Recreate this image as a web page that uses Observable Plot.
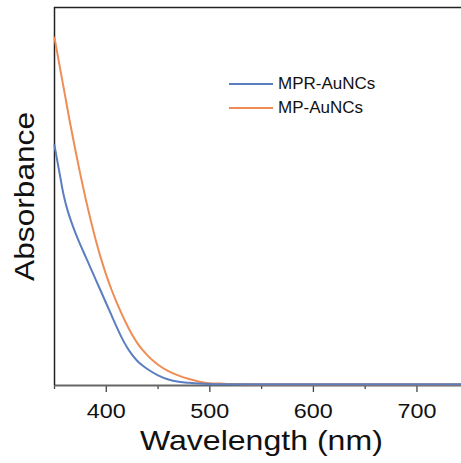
<!DOCTYPE html>
<html>
<head>
<meta charset="utf-8">
<script src="https://cdn.jsdelivr.net/npm/d3@7"></script>
<script src="https://cdn.jsdelivr.net/npm/@observablehq/plot@0.6"></script>
<style>
  html, body { margin: 0; padding: 0; background: #fff; }
  #wrap { position: relative; width: 461px; height: 463px; font-family: "Liberation Sans", Arial, sans-serif; }
  #legend { position: absolute; left: 229px; top: 72px; font-size: 17px; color: #111; line-height: 24px; }
  #legend div { display: flex; align-items: center; white-space: nowrap; }
  #legend svg { margin-right: 5px; }
</style>
</head>
<body>
<div id="wrap"></div>
<script>
// Wavelength (nm) and absorbance readings (arbitrary units, 0–1 of frame height)
const mprWavelength = [350, 352, 354, 356, 358, 360, 363, 366, 370, 375, 380, 385, 390, 395, 400, 405, 410, 415, 420, 425, 430, 435, 440, 450, 460, 470, 480, 490, 500, 520, 550, 600, 650, 700, 743];
const mprAbsorbance = [0.635, 0.605, 0.575, 0.545, 0.515, 0.49, 0.46, 0.435, 0.405, 0.372, 0.341, 0.31, 0.279, 0.248, 0.217, 0.186, 0.155, 0.126, 0.101, 0.081, 0.065, 0.053, 0.043, 0.027, 0.016, 0.010, 0.007, 0.005, 0.004, 0.003, 0.003, 0.003, 0.003, 0.003, 0.003];
const mpWavelength = [350, 355, 360, 365, 370, 375, 380, 385, 390, 395, 400, 405, 410, 415, 420, 425, 430, 435, 440, 445, 450, 460, 470, 480, 490, 500, 510, 520, 550, 600, 650, 700, 743];
const mpAbsorbance = [0.92, 0.845, 0.77, 0.695, 0.625, 0.558, 0.495, 0.437, 0.383, 0.335, 0.292, 0.254, 0.22, 0.189, 0.16, 0.134, 0.112, 0.094, 0.079, 0.066, 0.055, 0.038, 0.026, 0.017, 0.010, 0.006, 0.005, 0.004, 0.003, 0.003, 0.003, 0.003, 0.003];
const seriesNames = ["MPR-AuNCs", "MP-AuNCs"];
const seriesColors = ["#5a7ebf", "#ee8d55"];
const majorTicks = [400, 500, 600, 700];
const minorTicks = [350, 450, 550, 650];
const xLabel = "Wavelength (nm)";
const yLabel = "Absorbance";

const mpr = mprWavelength.map((w, i) => ({w, a: mprAbsorbance[i], s: seriesNames[0]}));
const mp = mpWavelength.map((w, i) => ({w, a: mpAbsorbance[i], s: seriesNames[1]}));

const chart = Plot.plot({
  width: 461,
  height: 463,
  marginLeft: 54,
  marginRight: 0,
  marginTop: 7,
  marginBottom: 78,
  style: {fontFamily: "'Liberation Sans', Arial, sans-serif", background: "#fff", overflow: "visible"},
  x: {domain: [350, 743]},
  y: {domain: [0, 1], axis: null},
  color: {domain: seriesNames, range: seriesColors},
  marks: [
    Plot.axisX({ticks: minorTicks, tickSize: 4, tickFormat: () => "", stroke: "#444", strokeWidth: 1.3, label: null}),
    Plot.axisX({ticks: majorTicks, tickSize: 7, tickPadding: 11, fontSize: 21, fill: "#111", stroke: "#444", strokeWidth: 1.3, label: null}),
    Plot.ruleY([0], {stroke: "#666", strokeWidth: 2}),
    Plot.ruleY([1], {stroke: "#222", strokeWidth: 1.5}),
    Plot.ruleX([350], {stroke: "#222", strokeWidth: 1.5}),
    Plot.line(mp, {x: "w", y: "a", stroke: "s", strokeWidth: 2, curve: "monotone-x"}),
    Plot.line(mpr, {x: "w", y: "a", stroke: "s", strokeWidth: 2, curve: "monotone-x"}),
    Plot.text([xLabel], {frameAnchor: "bottom", lineAnchor: "middle", textAnchor: "middle", dy: 56, dx: 4, fontSize: 28, fill: "#111"}),
    Plot.text([yLabel], {frameAnchor: "left", rotate: -90, textAnchor: "middle", lineAnchor: "middle", dx: -29, fontSize: 28, fill: "#111"})
  ]
});

const wrap = document.getElementById("wrap");
wrap.appendChild(chart);

// Stretch text along its reading direction so its footprint matches the reference
function stretch(textEl, targetLen, vertical) {
  const svgRect = chart.getBoundingClientRect();
  const r = textEl.getBoundingClientRect();
  const cx = r.left + r.width / 2 - svgRect.left;
  const cy = r.top + r.height / 2 - svgRect.top;
  const len = vertical ? r.height : r.width;
  const k = targetLen / len;
  const g = document.createElementNS("http://www.w3.org/2000/svg", "g");
  textEl.parentNode.insertBefore(g, textEl);
  g.appendChild(textEl);
  g.setAttribute("transform", vertical
    ? `translate(0,${cy}) scale(1,${k}) translate(0,${-cy})`
    : `translate(${cx},0) scale(${k},1) translate(${-cx},0)`);
}
const texts = Array.from(chart.querySelectorAll("text"));
texts.forEach(t => {
  const s = t.textContent;
  if (s === xLabel) stretch(t, 243, false);
  else if (s === yLabel) stretch(t, 169, true);
  else if (/^\d{3}$/.test(s)) stretch(t, 39, false);
});

const legend = document.createElement("div");
legend.id = "legend";
seriesNames.forEach((name, i) => {
  const row = document.createElement("div");
  row.innerHTML = `<svg width="44" height="4"><line x1="0" x2="44" y1="2" y2="2" stroke="${seriesColors[i]}" stroke-width="2"/></svg><span>${name}</span>`;
  legend.appendChild(row);
});
wrap.appendChild(legend);
</script>
</body>
</html>
